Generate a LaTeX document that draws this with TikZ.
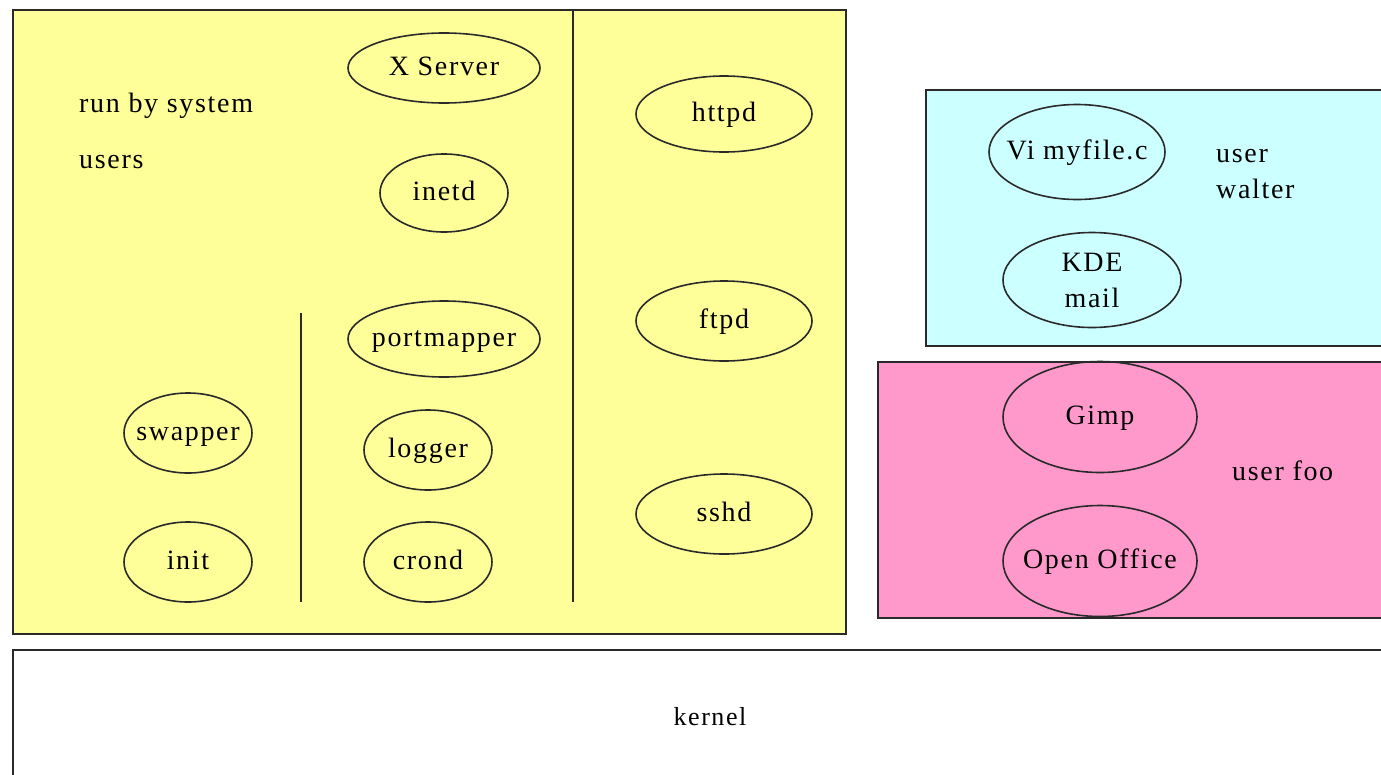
\documentclass[tikz,border=0pt]{standalone}
\usepackage{fontspec}
\setmainfont{Liberation Serif}[LetterSpace=6]
\usetikzlibrary{shapes.geometric}
\definecolor{sysyellow}{HTML}{FFFF99}
\definecolor{usercyan}{HTML}{CCFFFF}
\definecolor{userpink}{HTML}{FF99CC}
\definecolor{edge}{HTML}{2A2A2A}
\tikzset{
  area/.style={draw=edge, line width=2pt, rectangle, inner sep=0pt, anchor=north west},
  proc/.style={draw=edge, line width=1.6pt, ellipse, inner sep=-40pt, align=center,
               text height=20pt, text depth=5pt, font=\fontsize{28}{36}\selectfont},
  caption/.style={anchor=base west, inner sep=0pt, align=left, font=\fontsize{28}{36}\selectfont},
  divider/.style={draw=edge, line width=2pt}
}
\begin{document}
\begin{tikzpicture}[x=1pt,y=-1pt]
\useasboundingbox (0,0) rectangle (1381,774);
\clip (0,0) rectangle (1381,774);
\fill[white] (0,0) rectangle (1381,774);

% process groups
\node[area, fill=sysyellow, minimum width=833pt, minimum height=624pt] (sys) at (12,9) {};
\node[area, fill=usercyan, minimum width=470pt, minimum height=256pt] (walter) at (925,89) {};
\node[area, fill=userpink, minimum width=520pt, minimum height=256pt] (foo) at (877,361) {};
\node[area, fill=white, minimum width=1400pt, minimum height=150pt] (kbox) at (12,649) {};
\node[anchor=base, inner sep=0pt, font=\fontsize{26}{30}\selectfont] (kernel) at (710,725) {kernel};

% dividers inside the system area
\coordinate (d1t) at (573,9);
\coordinate (d1b) at (573,602);
\coordinate (d2t) at (301,313);
\coordinate (d2b) at (301,602);
\draw[divider] (d1t) -- (d1b);
\draw[divider] (d2t) -- (d2b);

% labels
\node[caption] (sysl) at (79,112) {run by system};
\node[caption] (sysl2) at (79,168) {users};
\node[caption] (wl) at (1216,198) {user\\walter};
\node[caption] (fl) at (1232,480) {user foo};

% system processes
\node[proc, minimum width=192pt, minimum height=70pt] (xserver) at (444,68) {X Server};
\node[proc, minimum width=128pt, minimum height=78pt] (inetd) at (444,193) {inetd};
\node[proc, minimum width=192pt, minimum height=76pt] (portmapper) at (444,339) {portmapper};
\node[proc, minimum width=128pt, minimum height=80pt] (logger) at (428,450) {logger};
\node[proc, minimum width=128pt, minimum height=80pt] (crond) at (428,562) {crond};
\node[proc, minimum width=128pt, minimum height=80pt] (swapper) at (188,433) {swapper};
\node[proc, minimum width=128pt, minimum height=80pt] (init) at (188,562) {init};
\node[proc, minimum width=176pt, minimum height=76pt] (httpd) at (724,114) {httpd};
\node[proc, minimum width=176pt, minimum height=80pt] (ftpd) at (724,321) {ftpd};
\node[proc, minimum width=176pt, minimum height=80pt] (sshd) at (724,514) {sshd};

% user processes
\node[proc, minimum width=176pt, minimum height=95pt] (vi) at (1077,152) {Vi myfile.c};
\node[proc, minimum width=178pt, minimum height=95pt, text height=, text depth=] (kde) at (1092,280) {KDE\\mail};
\node[proc, minimum width=194pt, minimum height=111pt] (gimp) at (1100,417) {Gimp};
\node[proc, minimum width=194pt, minimum height=111pt] (office) at (1100,561) {Open Office};
\end{tikzpicture}
\end{document}
